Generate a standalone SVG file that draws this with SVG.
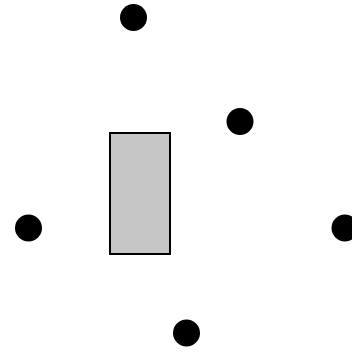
<svg xmlns="http://www.w3.org/2000/svg" width="352" height="352" viewBox="0 0 352 352">
<style>
.dot{fill:#000}
.box{fill:#c6c6c6;stroke:#000;stroke-width:2}
</style>
<rect width="352" height="352" fill="#fff"/>
<g id="connectors"></g>
<g id="n1"><circle class="dot" cx="133.5" cy="17.5" r="13.5"/></g>
<g id="n2"><circle class="dot" cx="240" cy="121.5" r="13.5"/></g>
<g id="n3"><circle class="dot" cx="28.5" cy="228" r="13.5"/></g>
<g id="n4"><circle class="dot" cx="345" cy="228" r="13.5"/></g>
<g id="n5"><circle class="dot" cx="186.5" cy="333" r="13.5"/></g>
<g id="box"><rect class="box" x="110" y="133" width="60" height="121"/></g>
</svg>
